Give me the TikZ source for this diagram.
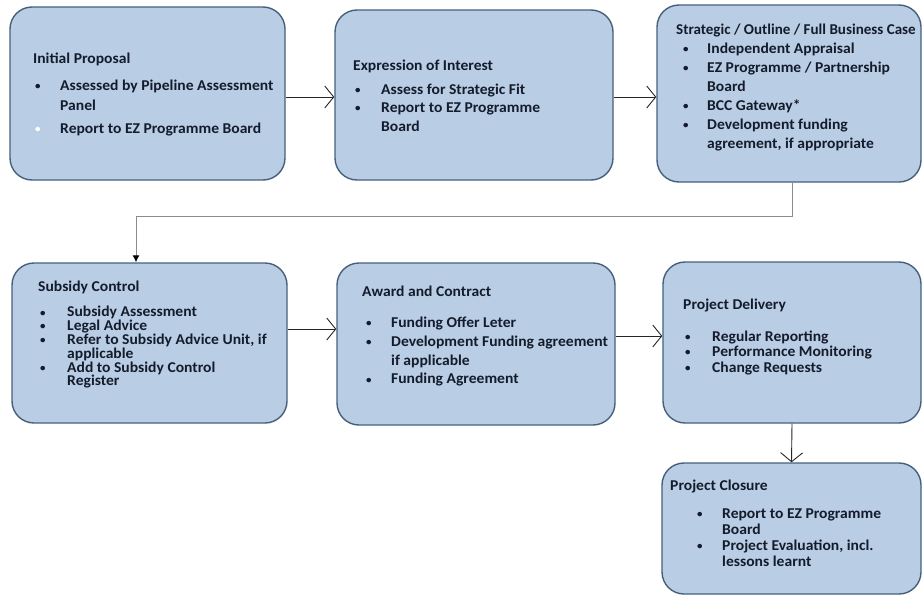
\documentclass[tikz,border=0pt]{standalone}
\usepackage{fontspec}
\setmainfont{Carlito}[FakeStretch=1.04]
\usetikzlibrary{arrows.meta}
\definecolor{boxfill}{HTML}{B9CDE5}
\definecolor{boxline}{HTML}{46607C}
\definecolor{txt}{HTML}{141C2B}
\newlength\bx
\newlength\bi
\newcommand\bp[2][txt]{\hspace*{\bx}\makebox[\bi][l]{\textcolor{#1}{\raisebox{0.8pt}{\scalebox{0.7}{\textbullet}}}}#2}
\newcommand\cn[1]{\hspace*{\bx}\hspace*{\bi}#1}
\tikzset{
  procbox/.style={draw=boxline, fill=boxfill, line width=1.4pt, rounded corners=22pt, inner sep=0pt},
  txtnode/.style={anchor=base west, inner sep=0pt, font=\bfseries, text=txt},
  flow/.style={draw=black!85, line width=0.9pt, -{Straight Barb[length=9pt,width=22pt,line width=0.9pt]}},
  elbow/.style={draw=black!45, line width=1pt, -{Latex[length=7pt,width=7pt,color=black]}}
}
\begin{document}
\begin{tikzpicture}[x=1pt,y=-1pt]
\useasboundingbox (0,0) rectangle (923,597);
% boxes
\node[procbox, minimum width=275pt, minimum height=173pt] (b1) at (147.5,93.5) {};
\node[procbox, minimum width=278pt, minimum height=170pt] (b2) at (474,95) {};
\node[procbox, minimum width=264pt, minimum height=177pt] (b3) at (789,93.5) {};
\node[procbox, minimum width=275pt, minimum height=160pt] (b4) at (149.5,343) {};
\node[procbox, minimum width=278pt, minimum height=162pt] (b5) at (476,344) {};
\node[procbox, minimum width=258pt, minimum height=161pt] (b6) at (792,342.5) {};
\node[procbox, minimum width=259pt, minimum height=131pt] (b7) at (791.5,528.5) {};
% texts
\node[txtnode] (t1) at (33,63) {\parbox[t]{300pt}{\fontsize{15}{20}\selectfont\setlength\bx{2pt}\setlength\bi{25pt}%
Initial Proposal\\[7pt]
\bp{Assessed by Pipeline Assessment}\\
\cn{Panel}\\[3pt]
\bp[white]{Report to EZ Programme Board}}};
\node[txtnode] (t2) at (353,70) {\parbox[t]{300pt}{\fontsize{15}{18.5}\selectfont\setlength\bx{2pt}\setlength\bi{26pt}%
Expression of Interest\\[5.5pt]
\bp{Assess for Strategic Fit}\\
\bp{Report to EZ Programme}\\
\cn{Board}}};
\node[txtnode] (t3) at (676,34) {\parbox[t]{300pt}{\fontsize{15}{19}\selectfont\setlength\bx{7pt}\setlength\bi{24pt}%
\scalebox{0.965}[1]{Strategic / Outline / Full Business Case}\\
\bp{Independent Appraisal}\\
\bp{EZ Programme / Partnership}\\
\cn{Board}\\
\bp{BCC Gateway*}\\
\bp{Development funding}\\
\cn{agreement, if appropriate}}};
\node[txtnode] (t4) at (38,291) {\parbox[t]{300pt}{\fontsize{15}{13.8}\selectfont\setlength\bx{2pt}\setlength\bi{27pt}%
Subsidy Control\\[12pt]
\bp{Subsidy Assessment}\\
\bp{Legal Advice}\\
\bp{Refer to Subsidy Advice Unit, if}\\
\cn{applicable}\\
\bp{Add to Subsidy Control}\\
\cn{Register}}};
\node[txtnode] (t5) at (362,296) {\parbox[t]{300pt}{\fontsize{15}{18.7}\selectfont\setlength\bx{4pt}\setlength\bi{25pt}%
Award and Contract\\[13pt]
\bp{Funding Offer Leter}\\
\bp{Development Funding agreement}\\
\cn{if applicable}\\
\bp{Funding Agreement}}};
\node[txtnode] (t6) at (683,309) {\parbox[t]{300pt}{\fontsize{15}{15.5}\selectfont\setlength\bx{2pt}\setlength\bi{27pt}%
Project Delivery\\[16.5pt]
\bp{Regular Reporting}\\
\bp{Performance Monitoring}\\
\bp{Change Requests}}};
\node[txtnode] (t7) at (670,490) {\parbox[t]{300pt}{\fontsize{15}{16.3}\selectfont\setlength\bx{27pt}\setlength\bi{25pt}%
Project Closure\\[11.7pt]
\bp{Report to EZ Programme}\\
\cn{Board}\\
\bp{Project Evaluation, incl.}\\
\cn{lessons learnt}}};
% connectors
\coordinate (r1) at (0,97);
\coordinate (r2) at (0,329);
\coordinate (r3) at (0,336);
\coordinate (e1) at (792,216);
\coordinate (e2) at (136,216);
\draw[flow] (b1.east |- r1) -- (b2.west |- r1);
\draw[flow] (b2.east |- r1) -- (b3.west |- r1);
\draw[elbow] (b3.south -| e1) -- (e1) -- (e2) -- (b4.north -| e2);
\draw[flow] (b4.east |- r2) -- (b5.west |- r2);
\draw[flow] (b5.east |- r3) -- (b6.west |- r3);
\draw[flow] (b6.south) -- (b7.north);
\end{tikzpicture}
\end{document}
